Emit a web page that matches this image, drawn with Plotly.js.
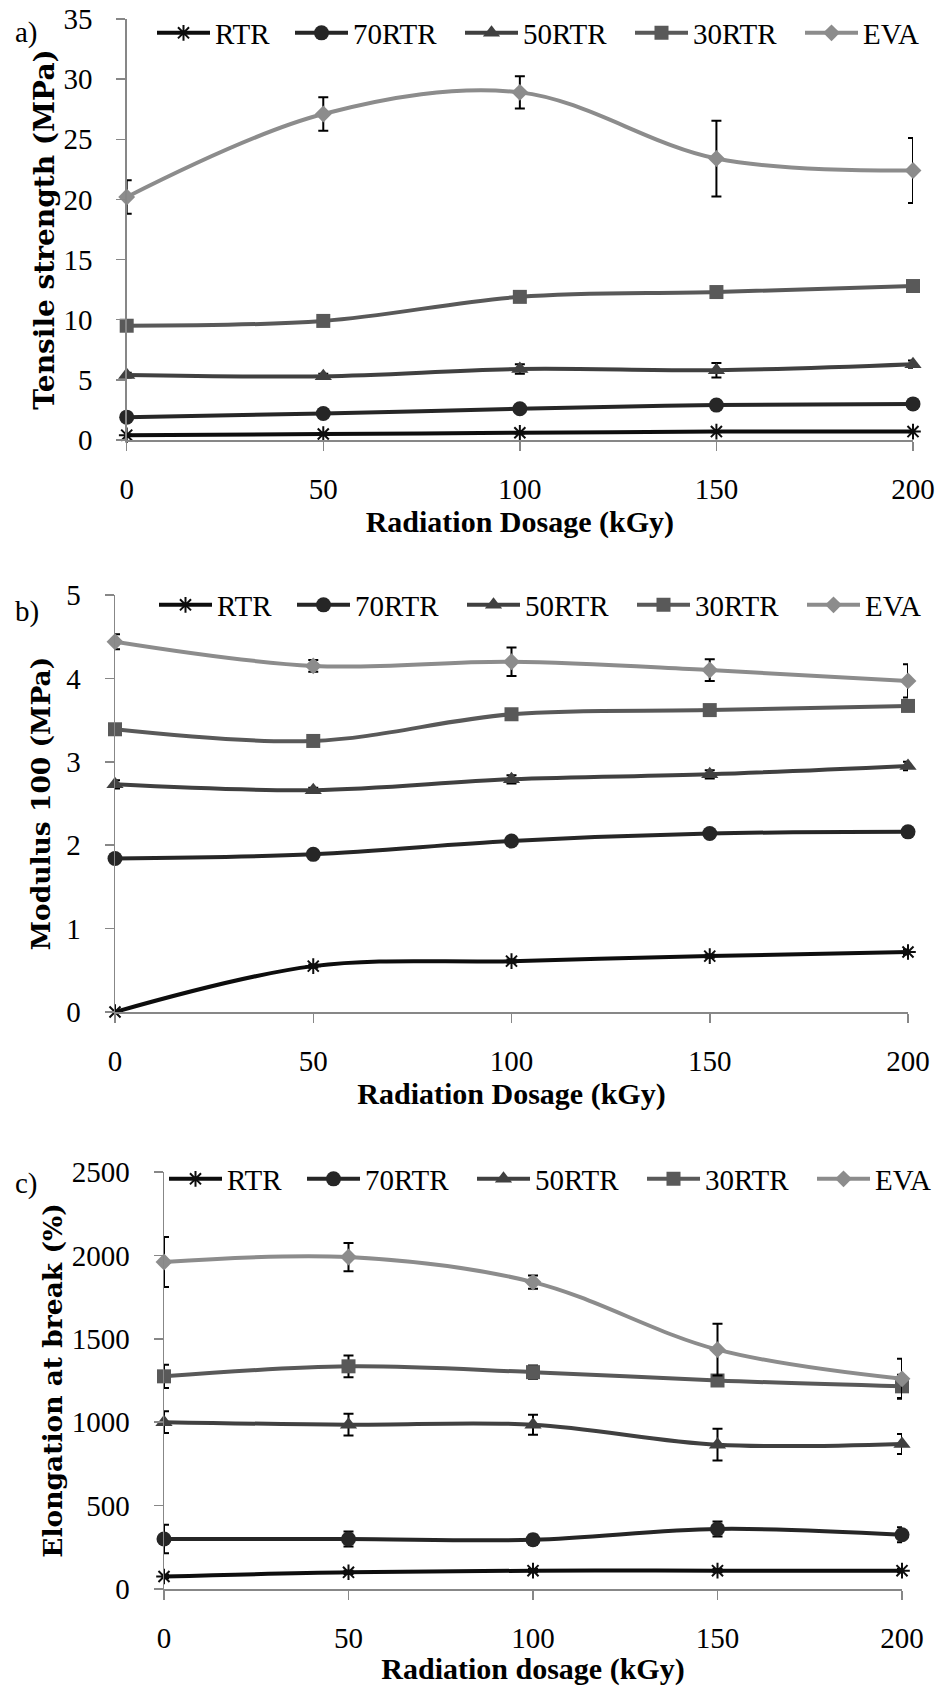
<!DOCTYPE html>
<html>
<head>
<meta charset="utf-8">
<script src="https://cdn.plot.ly/plotly-3.0.1.min.js"></script>
<style>
  html, body { margin: 0; padding: 0; background: #fff; }
  #chart { width: 946px; height: 1686px; }
</style>
</head>
<body>
<div id="chart"></div>
<script>
// ---------------- data ----------------
const dosage = [0, 50, 100, 150, 200];
const seriesNames = ["RTR", "70RTR", "50RTR", "30RTR", "EVA"];

// a) Tensile strength (MPa)
const tensileRTR   = [0.4, 0.5, 0.6, 0.7, 0.7];
const tensile70RTR = [1.9, 2.2, 2.6, 2.9, 3.0];
const tensile50RTR = [5.4, 5.3, 5.9, 5.8, 6.3];
const tensile30RTR = [9.5, 9.9, 11.9, 12.3, 12.8];
const tensileEVA   = [20.2, 27.1, 28.9, 23.4, 22.4];
const tensileErrRTR   = [0.05, 0.05, 0.05, 0.05, 0.05];
const tensileErr70RTR = [0.1, 0.1, 0.1, 0.1, 0.1];
const tensileErr50RTR = [0.2, 0.2, 0.4, 0.6, 0.3];
const tensileErr30RTR = [0.2, 0.2, 0.3, 0.2, 0.3];
const tensileErrEVA   = [1.4, 1.4, 1.35, 3.15, 2.7];

// b) Modulus 100 (MPa)
const modulusRTR   = [0.0, 0.55, 0.61, 0.67, 0.72];
const modulus70RTR = [1.84, 1.89, 2.05, 2.14, 2.16];
const modulus50RTR = [2.73, 2.66, 2.79, 2.85, 2.95];
const modulus30RTR = [3.39, 3.25, 3.57, 3.62, 3.67];
const modulusEVA   = [4.44, 4.15, 4.20, 4.10, 3.97];
const modulusErrRTR   = [0.01, 0.02, 0.02, 0.02, 0.03];
const modulusErr70RTR = [0.02, 0.02, 0.02, 0.02, 0.02];
const modulusErr50RTR = [0.05, 0.03, 0.05, 0.05, 0.05];
const modulusErr30RTR = [0.03, 0.03, 0.03, 0.03, 0.04];
const modulusErrEVA   = [0.09, 0.07, 0.17, 0.13, 0.20];

// c) Elongation at break (%)
const elongRTR   = [75, 100, 110, 110, 110];
const elong70RTR = [300, 300, 295, 360, 325];
const elong50RTR = [1000, 985, 985, 865, 870];
const elong30RTR = [1275, 1335, 1300, 1250, 1215];
const elongEVA   = [1960, 1990, 1840, 1435, 1260];
const elongErrRTR   = [10, 10, 10, 10, 10];
const elongErr70RTR = [85, 45, 30, 45, 45];
const elongErr50RTR = [65, 65, 60, 95, 60];
const elongErr30RTR = [70, 65, 40, 20, 70];
const elongErrEVA   = [150, 85, 40, 155, 120];

// ---------------- styling ----------------
const colors  = ["#0d0d0d", "#262626", "#404040", "#595959", "#8c8c8c"];
const symbols = ["asterisk-open", "circle", "triangle-up", "square", "diamond"];
const sizes   = [13, 15, 15, 14, 13];
const legWidths = [70, 102, 102, 102, 60];
const AXC = "#878787";
const TICKFONT = { family: "Liberation Serif, serif", size: 29, color: "#000" };
const LEGFONT  = { family: "Liberation Serif, serif", size: 29, color: "#000" };
const XTFONT   = { family: "Liberation Serif, serif", size: 30, color: "#000", weight: "bold" };
const ytFont = s => ({ family: "DejaVu Serif, serif", size: s, color: "#000", weight: "bold" });

const panels = [
  { vals: [tensileRTR, tensile70RTR, tensile50RTR, tensile30RTR, tensileEVA],
    errs: [tensileErrRTR, tensileErr70RTR, tensileErr50RTR, tensileErr30RTR, tensileErrEVA] },
  { vals: [modulusRTR, modulus70RTR, modulus50RTR, modulus30RTR, modulusEVA],
    errs: [modulusErrRTR, modulusErr70RTR, modulusErr50RTR, modulusErr30RTR, modulusErrEVA] },
  { vals: [elongRTR, elong70RTR, elong50RTR, elong30RTR, elongEVA],
    errs: [elongErrRTR, elongErr70RTR, elongErr50RTR, elongErr30RTR, elongErrEVA] }
];

const W = 946, H = 1686;
const traces = [];
panels.forEach((p, pi) => {
  const sfx = pi === 0 ? "" : String(pi + 1);
  p.vals.forEach((v, si) => {
    traces.push({
      type: "scatter", mode: "lines+markers",
      x: dosage, y: v, name: seriesNames[si],
      xaxis: "x" + sfx, yaxis: "y" + sfx,
      legend: "legend" + sfx,
      legendwidth: legWidths[si],
      cliponaxis: false,
      line: { color: colors[si], width: 4, shape: "spline", smoothing: 1 },
      marker: { symbol: symbols[si], size: sizes[si], color: colors[si],
                line: { color: colors[si], width: si === 0 ? 2 : 0 } },
      error_y: { type: "data", array: p.errs[si], visible: true,
                 color: "#000", thickness: 2, width: 5 }
    });
  });
});

function xa(d0, d1, anchor, title) {
  return {
    domain: [d0 / W, d1 / W], anchor: anchor, range: [0, 200], dtick: 50, tick0: 0,
    showline: true, linecolor: AXC, linewidth: 1.5, zeroline: false, showgrid: false,
    ticks: "outside", ticklen: 9, tickwidth: 1.5, tickcolor: AXC,
    tickfont: TICKFONT, ticklabelstandoff: 14,
    title: { text: title, font: XTFONT, standoff: 6 }
  };
}
function ya(top, bot, anchor, rng, dt, title, fs, standoff) {
  return {
    domain: [1 - bot / H, 1 - top / H], anchor: anchor, range: rng, dtick: dt, tick0: 0,
    showline: true, linecolor: AXC, linewidth: 1.5, zeroline: false, showgrid: false,
    ticks: "outside", ticklen: 9, tickwidth: 1.5, tickcolor: AXC,
    tickfont: TICKFONT, ticklabelstandoff: 18,
    title: { text: title, font: ytFont(fs), standoff: standoff }
  };
}
function leg(xpx, ypx) {
  return {
    orientation: "h", x: xpx / W, xanchor: "left", y: 1 - ypx / H, yanchor: "middle",
    font: LEGFONT, itemwidth: 53, traceorder: "normal",
    bgcolor: "rgba(0,0,0,0)", borderwidth: 0
  };
}

const layout = {
  width: W, height: H,
  margin: { l: 0, r: 0, t: 0, b: 0 },
  paper_bgcolor: "#fff", plot_bgcolor: "#fff",
  showlegend: true,
  xaxis:  xa(126.7, 913, "y", "Radiation Dosage (kGy)"),
  yaxis:  ya(19, 440, "x", [0, 35], 5, "Tensile strength (MPa)", 28, 0),
  xaxis2: xa(115, 908, "y2", "Radiation Dosage (kGy)"),
  yaxis2: ya(595, 1012, "x2", [0, 5], 1, "Modulus 100 (MPa)", 26.5, 8),
  xaxis3: xa(164, 902, "y3", "Radiation dosage (kGy)"),
  yaxis3: ya(1172, 1589, "x3", [0, 2500], 500, "Elongation at break (%)", 26.5, 1),
  legend:  leg(152, 33),
  legend2: leg(154, 605),
  legend3: leg(164, 1179),
  annotations: [
    { text: "a)", x: 13 / W, y: 1 - 32 / H },
    { text: "b)", x: 13 / W, y: 1 - 612 / H },
    { text: "c)", x: 13 / W, y: 1 - 1183 / H }
  ].map(a => Object.assign({ xref: "paper", yref: "paper", xanchor: "left", yanchor: "middle",
                             showarrow: false, font: { family: "Liberation Serif, serif", size: 29, color: "#000" } }, a))
};

Plotly.newPlot("chart", traces, layout, { staticPlot: true, displayModeBar: false });
</script>
</body>
</html>
